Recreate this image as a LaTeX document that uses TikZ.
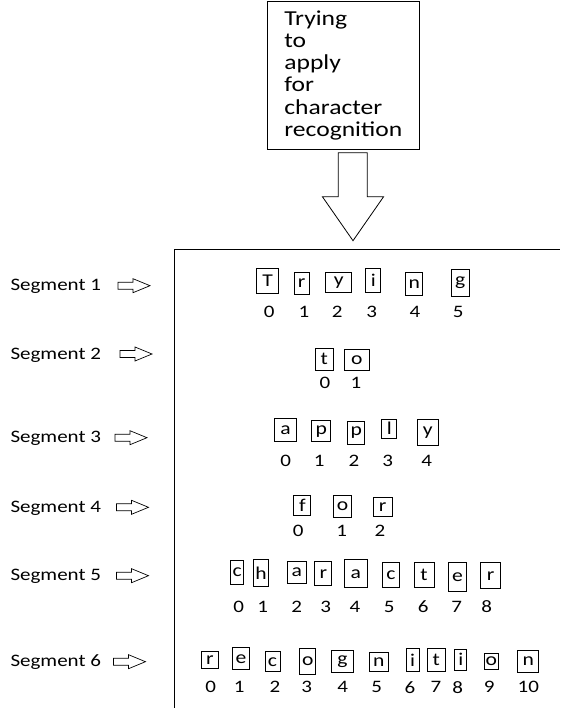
\documentclass[tikz,border=0pt]{standalone}
\usepackage{fontspec}
\setmainfont{Carlito}[FakeStretch=1.2]
\usetikzlibrary{positioning}

\tikzset{
  letterbox/.style={draw, line width=1pt, inner sep=0pt, font=\fontsize{18}{20}\selectfont},
  idx/.style={inner sep=0pt},
  seglabel/.style={anchor=base west, inner sep=0pt},
  hollow/.style={draw, line width=0.8pt, fill=white, line join=miter},
}

\begin{document}
\begin{tikzpicture}[x=1pt, y=-1pt, line width=1pt,
                    every node/.style={font=\fontsize{17.5}{19}\selectfont}]
  \useasboundingbox (0,0) rectangle (560,708);

  \node[draw, align=left, minimum width=152pt, minimum height=148pt,
        font=\fontsize{21.3}{22.3}\selectfont]
    (input) at (343.3,75.3) {Trying\\to\\apply\\for\\character\\recognition};

  % big arrow into the segments
  \draw[hollow] (338.3,152.7) -- (367.3,152.7) -- (367.3,196.7) -- (383.6,196.7)
    -- (353,240.7) -- (322.4,196.7) -- (338.3,196.7) -- cycle;

  \draw (174,708) -- (174,249.5) -- (560,249.5);

  % labels and small arrows
  \foreach \s/\y/\a in {1/290.7/118, 2/359/120, 3/442.7/115, 4/512.3/116.5, 5/580.7/116.5, 6/666.7/113.5} {
    \node[seglabel] (seg\s) at (10,\y) {Segment \s};
    \draw[hollow, line width=0.7pt] (\a,\y-8.5) -- ++(15,0) -- ++(0,-3.5) -- ++(17,7)
      -- ++(-17,7) -- ++(0,-3.5) -- ++(-15,0) -- cycle;
  }

  % Segment 1
  \foreach \l/\x/\y/\w/\h [count=\i from 0] in {T/267.7/280.8/22/25, r/301.7/283.3/15.3/22,
      y/338.8/282.2/25.7/19.7, i/373.3/280.5/15.3/24.4, n/414.2/284/17/23.4, g/460.3/282.7/18/26.7}
    \node[letterbox, minimum width=\w pt, minimum height=\h pt] (a\i) at (\x,\y) {\l};
  \foreach \x [count=\i from 0] in {269.3, 304, 337.3, 371.7, 415, 458.3}
    \node[idx] (na\i) at (\x,311.7) {\i};

  % Segment 2
  \foreach \l/\x/\y/\w/\h [count=\i from 0] in {t/324.3/359.2/18/21.7, o/356.8/359.7/25/20.7}
    \node[letterbox, minimum width=\w pt, minimum height=\h pt] (b\i) at (\x,\y) {\l};
  \foreach \x [count=\i from 0] in {325, 356}
    \node[idx] (nb\i) at (\x,383.3) {\i};

  % Segment 3
  \foreach \l/\x/\y/\w/\h [count=\i from 0] in {a/285.5/430/22.4/23.4, p/321.2/431.3/19/20.7,
      p/356.3/432.7/17.3/23.3, l/389.3/428.7/14.7/19.3, y/427.7/432.3/20.7/26}
    \node[letterbox, minimum width=\w pt, minimum height=\h pt] (c\i) at (\x,\y) {\l};
  \foreach \x [count=\i from 0] in {285.7, 319.3, 354, 387.7, 426.7}
    \node[idx] (nc\i) at (\x,461) {\i};

  % Segment 4
  \foreach \l/\x/\y/\w/\h [count=\i from 0] in {f/302.3/505/16.7/20, o/342.5/506.2/18.4/22.3,
      r/382.7/507/18.7/19.4}
    \node[letterbox, minimum width=\w pt, minimum height=\h pt] (d\i) at (\x,\y) {\l};
  \foreach \x [count=\i from 0] in {298.3, 341.7, 380}
    \node[idx] (nd\i) at (\x,530.7) {\i};

  % Segment 5
  \foreach \l/\x/\y/\w/\h [count=\i from 0] in {c/237.3/572.2/13.3/24.3, h/261/573.3/15.4/26.7,
      a/296.7/572.5/18.7/21.6, r/323.3/573.7/16.7/24, a/355.7/573.8/23.3/27.7,
      c/391/575.2/16.6/25, t/424/575.2/20/25, e/457.5/577.2/18.4/29, r/490.7/575.8/20/26.3}
    \node[letterbox, minimum width=\w pt, minimum height=\h pt] (e\i) at (\x,\y) {\l};
  \foreach \x [count=\i from 0] in {238.7, 262.7, 296.7, 325.7, 355, 389.3, 423.3, 456.7, 486.7}
    \node[idx] (ne\i) at (\x,606.7) {\i};

  % Segment 6
  \foreach \l/\x/\y/\w/\h [count=\i from 0] in {r/210/660/16.6/16.6, e/241/658.8/16.6/22.3,
      c/272.5/661.7/15/20, o/307.8/661.3/15.7/26, g/342.5/661.2/21.6/22.3,
      n/378.7/662/19.3/19.4, i/412.7/660/13.3/23.4, t/436.2/660/17.7/23.4,
      i/460.8/659.7/11.7/20.7, o/491.3/661.2/14/15.7, n/528.3/661.2/21.3/22.3}
    \node[letterbox, minimum width=\w pt, minimum height=\h pt] (f\i) at (\x,\y) {\l};
  \foreach \x [count=\i from 0] in {210.7, 239.3, 275, 306.7, 342.7, 376.7, 410, 436, 457.7, 489.3, 528.3}
    \node[idx] (nf\i) at (\x,687.3) {\i};
\end{tikzpicture}
\end{document}
